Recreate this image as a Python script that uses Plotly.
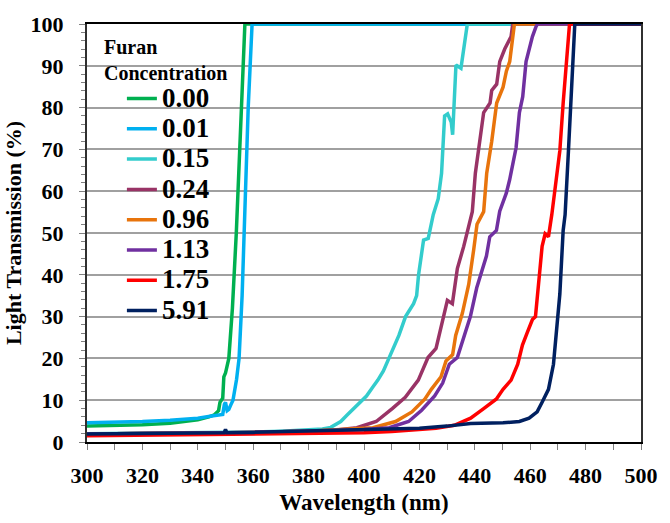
import plotly.graph_objects as go

# ---- data ----
labels = ["0.00", "0.01", "0.15", "0.24", "0.96", "1.13", "1.75", "5.91"]
colors = ["#00B050", "#00B0F0", "#33CCCC", "#993366", "#E8740C", "#7030A0", "#FF0000", "#002060"]

wl_000 = [300, 310, 320, 330, 340, 344, 346, 347.5, 348, 348.5, 349, 349.4, 350, 351.2, 352.5, 353.9, 355, 356, 357, 500]
tr_000 = [3.8, 3.9, 4.1, 4.5, 5.3, 6.0, 6.5, 7.5, 9.5, 10, 10.5, 15.6, 16.5, 20, 32, 50, 68, 85, 100, 100]

wl_001 = [300, 310, 320, 330, 340, 345, 348, 349, 349.6, 350, 350.6, 351.2, 352, 352.7, 354, 354.9, 356, 356.8, 358.2, 359.6, 500]
tr_001 = [4.6, 4.7, 4.9, 5.2, 5.7, 6.2, 6.5, 6.6, 9, 9.5, 7.5, 7.8, 9, 10, 15, 20, 35, 50, 80, 100, 100]

wl_015 = [300, 320, 340, 350, 360, 370, 380, 385, 388, 391.6, 394, 397.4, 400.9, 403, 405, 407, 409.1, 411, 412.6,
          415, 417.9, 419, 419.7, 421.5, 423.2, 425, 426.8, 428, 429.1, 430.2, 431.5, 432, 433.2, 435, 437.3, 500]
tr_015 = [2.0, 2.1, 2.2, 2.3, 2.4, 2.6, 2.8, 3.1, 3.5, 4.9, 6.5, 8.7, 11, 13, 14.8, 17, 20.2, 23, 25.5,
          30, 33.1, 35, 40, 48.3, 48.7, 54.4, 58.2, 64.3, 78, 78.5, 76.5, 73.5, 90.2, 89.4, 100, 100]

wl_024 = [300, 320, 340, 360, 380, 390, 397.4, 404.4, 410.2, 414.9, 419.6, 423.1, 426, 428.4, 430.1, 431.9, 433.7,
          436, 437.8, 439.1, 440.2, 441.4, 443.2, 445.5, 446.1, 447.9, 449, 450.8, 452, 453.1, 453.7, 500]
tr_024 = [1.9, 2.0, 2.1, 2.3, 2.6, 2.9, 3.4, 4.9, 8.0, 10.7, 14.8, 20.2, 22.4, 29.3, 33.9, 33.1, 41.5,
          46.8, 52.1, 55.1, 64.3, 70.4, 78.8, 81.1, 84.1, 85.6, 91, 94, 95.5, 97, 100, 100]

wl_096 = [300, 320, 340, 360, 380, 395, 403.2, 411.4, 417.3, 422, 424.3, 427.8, 429.6, 432, 433.1, 435.5, 437.8,
          439.6, 440.8, 443.2, 444.3, 446.1, 447.9, 450.2, 451.4, 452.6, 453.7, 454.3, 500]
tr_096 = [1.9, 2.0, 2.1, 2.3, 2.6, 3.0, 3.4, 4.9, 7.2, 10.3, 12.6, 15.6, 19.4, 20.9, 25.5, 30.8, 37.7,
          46, 52.1, 55.1, 64.3, 71.9, 81.1, 84.9, 88.7, 91, 97, 100, 100]

wl_113 = [300, 320, 340, 360, 380, 400, 409.1, 416.1, 420.8, 425.5, 428.4, 430.8, 433.7, 436, 438.4, 440.7, 442.5,
          444.2, 445.4, 447.8, 449, 451.4, 452.6, 454.9, 456.1, 457.3, 458.5, 459.6, 460.8, 462, 462.6, 500]
tr_113 = [1.9, 2.0, 2.1, 2.3, 2.6, 3.0, 3.4, 4.9, 7.6, 11, 14.1, 18.6, 20.2, 24.7, 30, 36.9, 40.7,
          44.5, 49.1, 50.6, 55.2, 59.6, 62.8, 70.4, 78.8, 82.6, 91, 94, 97, 99.2, 100, 100]

wl_175 = [300, 320, 340, 360, 380, 400, 410, 420, 426, 432.6, 438.5, 443.2, 447.8, 450.2, 453.1, 455.5, 457.2, 459,
          460.8, 461.9, 463.1, 464.3, 465.4, 466.6, 467.8, 469, 470.7, 471.9, 473.1, 474.2, 500]
tr_175 = [1.5, 1.6, 1.7, 1.9, 2.0, 2.2, 2.5, 2.9, 3.3, 4.0, 5.7, 8.0, 10.3, 12.6, 14.8, 18.6, 23.2, 26.3,
          29.3, 30, 39.2, 46.8, 49.8, 49.1, 54.4, 61.3, 69.7, 81.1, 92.5, 100, 100]

wl_591 = [300, 320, 340, 349.5, 350, 350.5, 360, 380, 400, 420, 430, 438.5, 450.2, 456.1, 459.6, 462.5, 464.3,
          466.6, 468.4, 469.5, 470.7, 471.9, 472.6, 473.8, 474.9, 476.1, 500]
tr_591 = [1.9, 2.0, 2.1, 2.2, 3.0, 2.2, 2.3, 2.6, 2.9, 3.3, 3.8, 4.4, 4.6, 4.9, 5.7, 7.2, 9.5,
          12.6, 18.6, 26.3, 35.4, 50.6, 54.4, 69.6, 84.9, 100, 100]

series_x = [wl_000, wl_001, wl_015, wl_024, wl_096, wl_113, wl_175, wl_591]
series_y = [tr_000, tr_001, tr_015, tr_024, tr_096, tr_113, tr_175, tr_591]

x_ticks = list(range(300, 501, 20))
y_ticks = list(range(0, 101, 10))

FONT = "Liberation Serif, Times New Roman, serif"

fig = go.Figure()
for lab, col, xs, ys in zip(labels, colors, series_x, series_y):
    fig.add_trace(go.Scatter(x=xs, y=ys, mode="lines",
                             name='<span style="font-size:27px">' + lab + '</span>',
                             line=dict(color=col, width=3.5)))

fig.update_layout(
    width=670, height=523,
    margin=dict(l=86, r=16, t=17, b=68),
    paper_bgcolor="white", plot_bgcolor="white",
    font=dict(family=FONT, color="black", weight="bold"),
    showlegend=True,
    legend=dict(x=0.063, y=0.87, xanchor="left", yanchor="top",
                bgcolor="rgba(0,0,0,0)", font=dict(family=FONT, size=21, weight="bold", color="black"),
                tracegroupgap=0),
    annotations=[dict(text="Furan<br>Concentration", xref="paper", yref="paper",
                      x=(101 - 86) / 568, y=(455 - 28) / 438, xanchor="left", yanchor="top",
                      align="left", showarrow=False,
                      font=dict(family=FONT, size=20, weight="bold", color="black"))],
)

fig.update_xaxes(
    range=[300, 500], tickvals=x_ticks, ticks="outside", ticklen=6, tickcolor="#808080",
    tickfont=dict(family=FONT, size=22, weight="bold"), ticklabelstandoff=7, ticklabeloverflow="allow",
    minor=dict(dtick=10, ticks="outside", ticklen=6, tickcolor="#808080", showgrid=False),
    showgrid=False, showline=True, linecolor="black", linewidth=2, mirror=True,
    title=dict(text="Wavelength (nm)", font=dict(family=FONT, size=23, weight="bold"), standoff=6),
)
fig.update_yaxes(
    range=[0, 100], tickvals=y_ticks, ticks="outside", ticklen=6, tickcolor="#808080",
    tickfont=dict(family=FONT, size=22, weight="bold"), ticklabelstandoff=11,
    minor=dict(dtick=2, ticks="outside", ticklen=4, tickcolor="#808080", showgrid=False),
    showgrid=True, gridcolor="#A0A0A0", gridwidth=1.5,
    showline=True, linecolor="#303030", linewidth=2, mirror=True,
    title=dict(text="Light Transmission (%)", font=dict(family=FONT, size=22, weight="bold"), standoff=3),
)

fig.write_html("out.html")
